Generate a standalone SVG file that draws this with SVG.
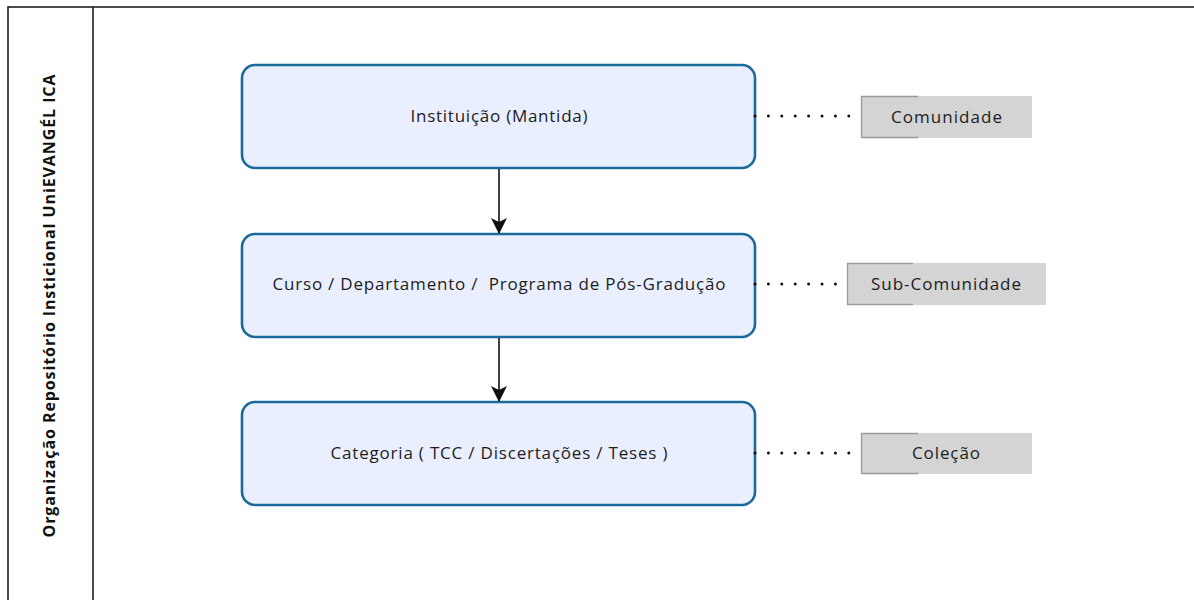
<svg xmlns="http://www.w3.org/2000/svg" width="1194" height="600" viewBox="0 0 1194 600">
<style>
.frame{fill:none;stroke:#1e1e1e;stroke-width:1.6}
.task{fill:#eaefff;stroke:#1a6a9c;stroke-width:2.6}
.ann{fill:#d4d4d4}
.brk{fill:none;stroke:#9a9a9a;stroke-width:1.3}
.txt{font-family:"Open Sans","Noto Sans",sans-serif;font-size:17px;fill:#1c1c1c;text-anchor:middle}
.lane{font-family:"Open Sans","Noto Sans",sans-serif;font-size:16px;font-weight:bold;fill:#111;text-anchor:middle}
.flow{stroke:#111;stroke-width:1.6;fill:none}
.dot{stroke:#111;stroke-width:3;stroke-linecap:round;stroke-dasharray:0 13.4;fill:none}
</style>
<defs>
<marker id="ah" markerWidth="16" markerHeight="16" refX="15" refY="8" orient="auto" markerUnits="userSpaceOnUse" viewBox="0 0 16 16">
<path d="M0,0 L16,8 L0,16 L4,8 z" fill="#111"/>
</marker>
</defs>
<rect width="1194" height="600" fill="#ffffff"/>
<g id="pool">
<rect class="frame" x="8" y="7" width="1200" height="610"/>
<line class="frame" x1="93" y1="7" x2="93" y2="600"/>
<text class="lane" transform="translate(55,306) rotate(-90)" textLength="463">Organização Repositório Insticional UniEVANGÉL ICA</text>
</g>
<g id="node-instituicao">
<rect class="task" x="242" y="65" width="513" height="103" rx="13"/>
<text class="txt" x="499" y="122" textLength="177">Instituição (Mantida)</text>
</g>
<g id="node-curso">
<rect class="task" x="242" y="234" width="513" height="103" rx="13"/>
<text class="txt" x="499" y="290" textLength="453" xml:space="preserve">Curso / Departamento /  Programa de Pós-Gradução</text>
</g>
<g id="node-categoria">
<rect class="task" x="242" y="402" width="513" height="103" rx="13"/>
<text class="txt" x="499" y="459" textLength="337">Categoria ( TCC / Discertações / Teses )</text>
</g>
<g id="ann-comunidade">
<rect class="ann" x="861" y="96" width="171" height="42"/>
<path class="brk" d="M918,96.5 H861.5 V137.5 H918"/>
<text class="txt" x="946.5" y="123" textLength="111">Comunidade</text>
</g>
<g id="ann-subcomunidade">
<rect class="ann" x="847" y="263" width="199" height="42"/>
<path class="brk" d="M913,263.5 H847.5 V304.5 H913"/>
<text class="txt" x="946" y="290" textLength="150">Sub-Comunidade</text>
</g>
<g id="ann-colecao">
<rect class="ann" x="861" y="433" width="171" height="41"/>
<path class="brk" d="M918,433.5 H861.5 V473.5 H918"/>
<text class="txt" x="946" y="459" textLength="68">Coleção</text>
</g>
<g id="connectors">
<line class="flow" x1="499" y1="169" x2="499" y2="233" marker-end="url(#ah)"/>
<line class="flow" x1="499" y1="338" x2="499" y2="401" marker-end="url(#ah)"/>
<line class="dot" x1="755" y1="116" x2="850" y2="116"/>
<line class="dot" x1="755" y1="284" x2="837" y2="284"/>
<line class="dot" x1="755" y1="453" x2="850" y2="453"/>
</g>
</svg>
